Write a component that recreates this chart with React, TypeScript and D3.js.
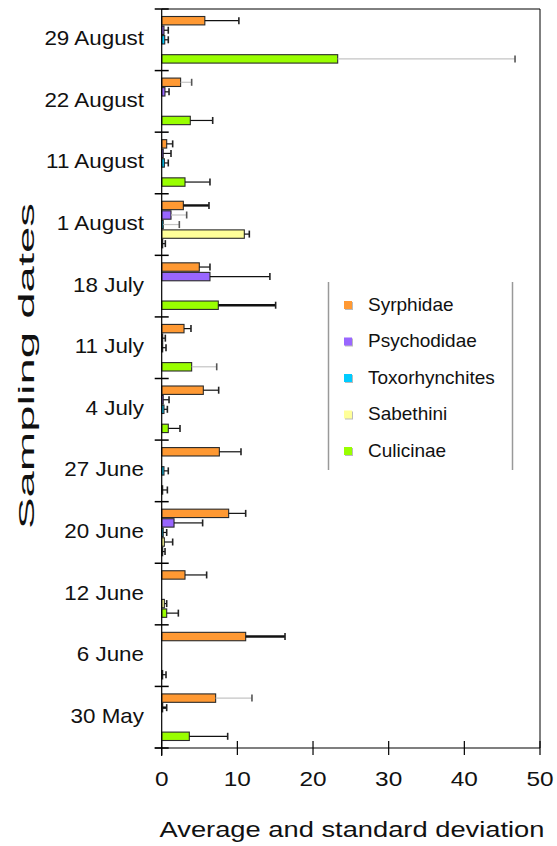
import * as d3 from 'd3'

const dates = ['29 August', '22 August', '11 August', '1 August', '18 July', '11 July', '4 July', '27 June', '20 June', '12 June', '6 June', '30 May']
const series = ['Syrphidae', 'Psychodidae', 'Toxorhynchites', 'Sabethini', 'Culicinae']
const xTicks = [0, 10, 20, 30, 40, 50]

const syrphidaeMean = [5.7, 2.5, 0.66, 2.86, 4.97, 2.95, 5.5, 7.62, 8.85, 3.08, 11.1, 7.13]
const syrphidaeSd = [4.5, 1.46, 0.79, 3.39, 1.41, 0.92, 2.03, 2.86, 2.25, 2.86, 5.2, 4.8]
const psychodidaeMean = [0.3, 0.43, 0.2, 1.23, 6.38, 0.05, 0.2, 0, 1.63, 0, 0, 0.1]
const psychodidaeSd = [0.57, 0.54, 1.03, 2.07, 7.92, 0.43, 0.77, 0, 3.78, 0, 0, 0.56]
const toxoMean = [0.4, 0, 0.35, 0.2, 0, 0.05, 0.3, 0.3, 0.2, 0, 0, 0]
const toxoSd = [0.47, 0, 0.52, 2.13, 0, 0.52, 0.45, 0.57, 0.46, 0, 0, 0]
const sabethiniMean = [0, 0, 0, 10.92, 0, 0, 0, 0, 0.35, 0.35, 0, 0]
const sabethiniSd = [0, 0, 0, 0.66, 0, 0, 0, 0, 1.1, 0.31, 0, 0]
const culicinaeMean = [23.26, 3.78, 3.08, 0.1, 7.48, 3.96, 0.87, 0.05, 0.1, 0.66, 0.05, 3.65]
const culicinaeSd = [23.44, 2.96, 3.3, 0.38, 7.58, 3.31, 1.55, 0.7, 0.34, 1.54, 0.52, 5.07]

const means = [syrphidaeMean, psychodidaeMean, toxoMean, sabethiniMean, culicinaeMean]
const sds = [syrphidaeSd, psychodidaeSd, toxoSd, sabethiniSd, culicinaeSd]
const colors = ['#ff9933', '#9966ff', '#00ccff', '#ffff99', '#99ff00']

// error bars drawn in light grey or heavier in the original
const lightErr = ['29 August|Culicinae', '22 August|Syrphidae', '1 August|Toxorhynchites', '1 August|Psychodidae', '30 May|Syrphidae', '11 July|Culicinae']
const thickErr = ['1 August|Syrphidae', '18 July|Culicinae', '6 June|Syrphidae', '30 May|Psychodidae']

const font = '"Liberation Sans", Arial, sans-serif'

export default function App() {
  const W = 557
  const H = 846
  const x0 = 161.7
  const x1 = 540
  const yTop = 9
  const yBot = 748

  const x = d3.scaleLinear().domain([0, 50]).range([x0, x1])
  const yGroup = d3.scaleBand<string>().domain(dates).range([yTop, yBot]).padding(0)
  const bw = yGroup.bandwidth()
  const ySub = d3.scaleBand<string>().domain(series).range([7.5, bw - 7.5]).paddingInner(0.12)

  const rows: { d: string; s: string; i: number; j: number; m: number; sd: number }[] = []
  dates.forEach((d, i) => {
    series.forEach((s, j) => {
      rows.push({ d, s, i, j, m: means[j][i], sd: sds[j][i] })
    })
  })

  return (
    <svg width={W} height={H} style={{ position: 'absolute', left: 0, top: 0, background: '#fff' }} fontFamily={font}>
      {/* frame */}
      <line x1={x0} x2={x1} y1={yTop} y2={yTop} stroke="#000" strokeWidth={1} />
      <line x1={x1} x2={x1} y1={yTop} y2={yBot} stroke="#000" strokeWidth={1} />

      {/* bars */}
      {rows.map((r) => {
        if (r.m <= 0) return null
        const y = (yGroup(r.d) ?? 0) + (ySub(r.s) ?? 0)
        return (
          <rect
            key={`b-${r.d}-${r.s}`}
            x={x(0)}
            y={y}
            width={Math.max(x(r.m) - x(0), 1)}
            height={ySub.bandwidth()}
            fill={colors[r.j]}
            stroke="#2a2a2a"
            strokeWidth={1.1}
          />
        )
      })}

      {/* error bars */}
      {rows.map((r) => {
        if (r.sd <= 0) return null
        const key = `${r.d}|${r.s}`
        const cy = (yGroup(r.d) ?? 0) + (ySub(r.s) ?? 0) + ySub.bandwidth() / 2
        const light = lightErr.includes(key)
        const thick = thickErr.includes(key)
        const xa = x(r.m)
        const xb = x(r.m + r.sd)
        return (
          <g key={`e-${key}`}>
            <line x1={xa} x2={xb} y1={cy} y2={cy} stroke={light ? '#c4c4c4' : '#111'} strokeWidth={thick ? 2.4 : 1.2} />
            <line x1={xb} x2={xb} y1={cy - 3.5} y2={cy + 3.5} stroke={light ? '#555' : '#222'} strokeWidth={1.6} />
          </g>
        )
      })}

      {/* y axis */}
      <line x1={x0} x2={x0} y1={yTop} y2={yBot + 8} stroke="#000" strokeWidth={1.2} />
      {dates.concat(['end']).map((d, i) => {
        const y = i < dates.length ? yGroup(d) ?? 0 : yBot
        return <line key={`gt-${i}`} x1={x0 - 7} x2={x0 + 7} y1={y} y2={y} stroke="#000" strokeWidth={1.5} />
      })}
      {dates.map((d) => {
        const cy = (yGroup(d) ?? 0) + bw / 2
        return (
          <text key={`yl-${d}`} transform={`translate(144,${cy + 5.5}) scale(1.12,1)`} textAnchor="end" fontSize={20} fill="#111">
            {d}
          </text>
        )
      })}

      {/* x axis */}
      <line x1={x0 - 7} x2={x1} y1={yBot} y2={yBot} stroke="#000" strokeWidth={1.2} />
      {xTicks.map((t) => (
        <g key={`xt-${t}`}>
          <line x1={x(t)} x2={x(t)} y1={yBot - 7} y2={yBot + 7} stroke="#000" strokeWidth={1.2} />
          <text transform={`translate(${x(t)},786) scale(1.22,1)`} textAnchor="middle" fontSize={20} fill="#111">
            {t}
          </text>
        </g>
      ))}

      <text transform={`translate(352,837) scale(1.27,1)`} textAnchor="middle" fontSize={21.5} fill="#111">
        Average and standard deviation
      </text>
      <text
        transform="translate(34,366) rotate(-90)"
        textAnchor="middle"
        fontSize={21.5}
        fill="#111"
        textLength={326}
        lengthAdjust="spacingAndGlyphs"
      >
        Sampling dates
      </text>

      {/* legend */}
      <line x1={328.5} x2={328.5} y1={282} y2={470} stroke="#999" strokeWidth={1.5} />
      <line x1={512.5} x2={512.5} y1={282} y2={470} stroke="#999" strokeWidth={1.5} />
      {series.map((s, j) => {
        const ly = 301 + j * 36.5
        return (
          <g key={`lg-${s}`}>
            <rect x={345} y={ly + 1} width={8} height={8} fill="#bbb" />
            <rect x={344} y={ly} width={8} height={8} fill={colors[j]} />
            <text x={368} y={ly + 9.5} fontSize={19} fill="#111">
              {s}
            </text>
          </g>
        )
      })}
    </svg>
  )
}
